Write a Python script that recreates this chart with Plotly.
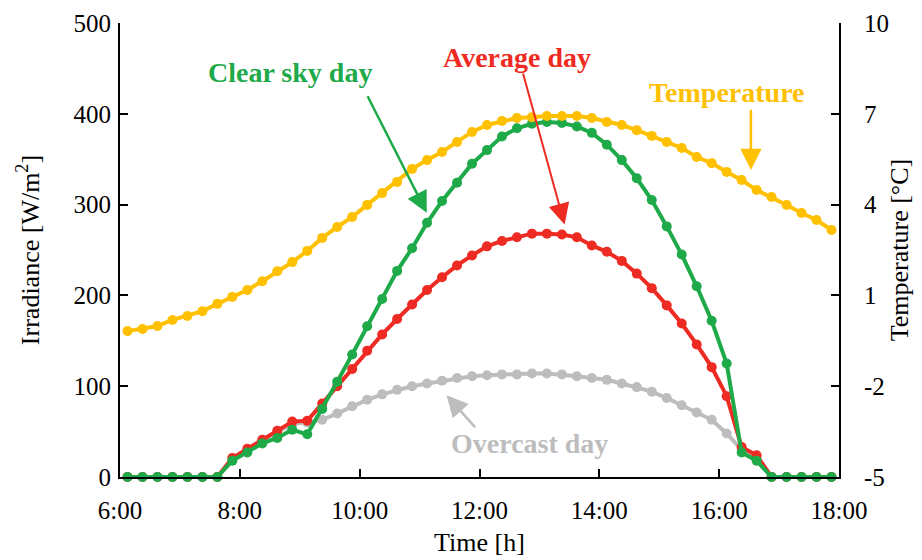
import plotly.graph_objects as go

# 15-minute intervals from 6:00 to 18:00 (values plotted at the interval centre)
interval_start = [f"{6 + (i * 15) // 60}:{(i * 15) % 60:02d}" for i in range(48)]

clear_sky = [0, 0, 0, 0, 0, 0, 0, 18, 27, 37, 43, 52, 47, 75, 105, 135, 166, 196,
             227, 252, 280, 304, 324, 345, 360, 375, 384, 389, 391, 390, 386, 379,
             366, 349, 329, 305, 276, 245, 210, 172, 125, 27, 18, 0, 0, 0, 0, 0]

average_day = [0, 0, 0, 0, 0, 0, 0, 21, 31, 41, 51, 61, 62, 81, 100, 119, 139, 157,
               174, 190, 206, 220, 233, 244, 254, 260, 264, 268, 268, 267, 264, 255,
               248, 238, 224, 208, 189, 169, 146, 121, 89, 33, 24, 0, 0, 0, 0, 0]

overcast_day = [0, 0, 0, 0, 0, 0, 0, 20, 30, 40, 50, 58, 60, 63, 70, 78, 85, 91,
                96, 100, 103, 106, 109, 111, 112, 113, 113, 114, 114, 113, 111, 109,
                107, 103, 99, 94, 87, 79, 71, 63, 48, 30, 20, 0, 0, 0, 0, 0]

temperature = [-0.18, -0.11, -0.01, 0.19, 0.32, 0.48, 0.72, 0.95, 1.18, 1.47, 1.80,
               2.10, 2.47, 2.90, 3.26, 3.59, 3.99, 4.38, 4.75, 5.18, 5.47, 5.74, 6.07,
               6.40, 6.63, 6.76, 6.86, 6.89, 6.93, 6.93, 6.93, 6.86, 6.73, 6.63, 6.46,
               6.27, 6.07, 5.87, 5.57, 5.37, 5.08, 4.81, 4.48, 4.25, 3.99, 3.72, 3.49,
               3.16]

x_ticks = [6, 8, 10, 12, 14, 16, 18]
x_ticktext = ["6:00", "8:00", "10:00", "12:00", "14:00", "16:00", "18:00"]
y_ticks = [0, 100, 200, 300, 400, 500]
y2_ticks = [-5, -2, 1, 4, 7, 10]
y2_ticktext = ["-5", "-2", "1", "4", "7", "10"]

x = [int(s.split(":")[0]) + int(s.split(":")[1]) / 60 + 0.125 for s in interval_start]

GREEN = "#1FAA4A"
RED = "#EE2B22"
YELLOW = "#FFC000"
GRAY = "#BDBDBD"
FONT = "Liberation Serif"

fig = go.Figure()
fig.add_trace(go.Scatter(x=x, y=overcast_day, mode="lines+markers",
                         line=dict(color=GRAY, width=4),
                         marker=dict(color=GRAY, size=10), cliponaxis=False,
                         name="Overcast day"))
fig.add_trace(go.Scatter(x=x, y=average_day, mode="lines+markers",
                         line=dict(color=RED, width=4),
                         marker=dict(color=RED, size=10), cliponaxis=False,
                         name="Average day"))
fig.add_trace(go.Scatter(x=x, y=clear_sky, mode="lines+markers",
                         line=dict(color=GREEN, width=4),
                         marker=dict(color=GREEN, size=10), cliponaxis=False,
                         name="Clear sky day"))
fig.add_trace(go.Scatter(x=x, y=temperature, mode="lines+markers", yaxis="y2",
                         line=dict(color=YELLOW, width=4),
                         marker=dict(color=YELLOW, size=10), cliponaxis=False,
                         name="Temperature"))

axis_common = dict(showgrid=False, zeroline=False, showline=True, linecolor="black",
                   linewidth=2, ticks="inside", ticklen=8, tickwidth=2,
                   tickcolor="black", automargin=False,
                   tickfont=dict(family=FONT, size=25, color="black"))
title_font = dict(family=FONT, size=26, color="black")

fig.update_layout(
    width=914, height=552,
    margin=dict(l=112, r=83, t=15, b=83),
    paper_bgcolor="white", plot_bgcolor="white",
    showlegend=False,
    xaxis=dict(range=[6, 18], tickvals=x_ticks, ticktext=x_ticktext,
               ticklabelstandoff=10,
               title=dict(text="Time [h]", font=title_font, standoff=10),
               **axis_common),
    yaxis=dict(range=[0, 500], tickvals=y_ticks, ticklabelstandoff=2,
               title=dict(text="Irradiance [W/m<sup>2</sup>]", font=title_font,
                          standoff=26),
               **axis_common),
    yaxis2=dict(range=[-5, 10], tickvals=y2_ticks, ticktext=y2_ticktext,
                overlaying="y", side="right", ticklabelstandoff=18,
                title=dict(text="Temperature [°C]", font=title_font, standoff=2),
                **axis_common),
)

bold = dict(family=FONT, size=28)
fig.add_annotation(x=8.83, y=445, xref="x", yref="y", text="<b>Clear sky day</b>",
                   showarrow=False, font=dict(color=GREEN, **bold))
fig.add_annotation(x=12.63, y=462, xref="x", yref="y", text="<b>Average day</b>",
                   showarrow=False, font=dict(color=RED, **bold))
fig.add_annotation(x=16.13, y=423, xref="x", yref="y", text="<b>Temperature</b>",
                   showarrow=False, font=dict(color=YELLOW, **bold))
fig.add_annotation(x=12.83, y=37, xref="x", yref="y", text="<b>Overcast day</b>",
                   showarrow=False, font=dict(color=GRAY, **bold))

# arrows
fig.add_annotation(x=11.12, y=291, ax=10.12, ay=421, xref="x", yref="y",
                   axref="x", ayref="y", text="", showarrow=True, arrowhead=2,
                   arrowsize=1.7, arrowwidth=2.5, arrowcolor=GREEN)
fig.add_annotation(x=13.42, y=278, ax=12.72, ay=446, xref="x", yref="y",
                   axref="x", ayref="y", text="", showarrow=True, arrowhead=2,
                   arrowsize=2.1, arrowwidth=2, arrowcolor=RED)
fig.add_annotation(x=16.53, y=338, ax=16.53, ay=406, xref="x", yref="y",
                   axref="x", ayref="y", text="", showarrow=True, arrowhead=2,
                   arrowsize=1.7, arrowwidth=2.5, arrowcolor=YELLOW)
fig.add_annotation(x=11.45, y=90, ax=11.95, ay=53, xref="x", yref="y",
                   axref="x", ayref="y", text="", showarrow=True, arrowhead=2,
                   arrowsize=1.7, arrowwidth=2.5, arrowcolor=GRAY)

fig.write_html("out.html")
